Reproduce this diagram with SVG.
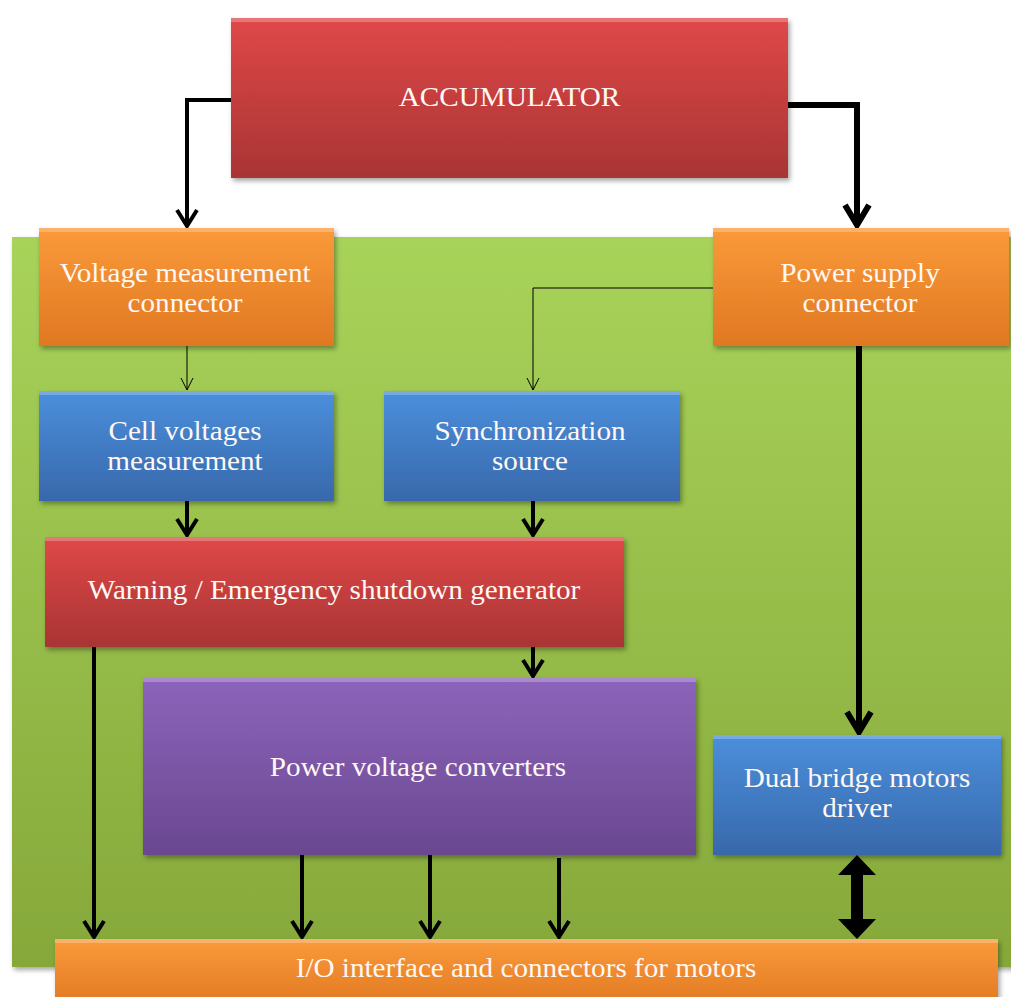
<svg xmlns="http://www.w3.org/2000/svg" width="1011" height="997" viewBox="0 0 1011 997">
<style>
.lbl{font-family:"Liberation Serif","Times New Roman",serif;font-size:27px;fill:#fff8f4;text-anchor:middle}
.box{filter:url(#sh)}
.c4{fill:none;stroke:#000;stroke-width:4;marker-end:url(#ah)}
.c6{fill:none;stroke:#000;stroke-width:6;marker-end:url(#ahb)}
.c1{fill:none;stroke:#000;stroke-width:1;marker-end:url(#aht)}
.hl{fill:#ffffff;opacity:0.25}
</style>
<defs>
<filter id="sh" x="-5%" y="-5%" width="112%" height="115%">
<feDropShadow dx="2" dy="3" stdDeviation="2.5" flood-color="#000" flood-opacity="0.35"/>
</filter>
<linearGradient id="gRed" x1="0" y1="0" x2="0" y2="1"><stop offset="0" stop-color="#e04848"/><stop offset="1" stop-color="#a93434"/></linearGradient>
<linearGradient id="gOr" x1="0" y1="0" x2="0" y2="1"><stop offset="0" stop-color="#fa9a3a"/><stop offset="1" stop-color="#e07822"/></linearGradient>
<linearGradient id="gBl" x1="0" y1="0" x2="0" y2="1"><stop offset="0" stop-color="#4b8fdc"/><stop offset="1" stop-color="#3868ab"/></linearGradient>
<linearGradient id="gPu" x1="0" y1="0" x2="0" y2="1"><stop offset="0" stop-color="#8c64bb"/><stop offset="1" stop-color="#6a4890"/></linearGradient>
<linearGradient id="gGr" x1="0" y1="0" x2="0" y2="1"><stop offset="0" stop-color="#a8d35a"/><stop offset="1" stop-color="#86a83a"/></linearGradient>
<marker id="ah" markerUnits="userSpaceOnUse" viewBox="-20 -12 24 24" refX="0" refY="0" markerWidth="24" markerHeight="24" orient="auto" overflow="visible">
<path d="M-16,-10 L0,0 L-16,10" fill="none" stroke="#000" stroke-width="4"/>
</marker>
<marker id="ahb" markerUnits="userSpaceOnUse" viewBox="-24 -14 28 28" refX="0" refY="0" markerWidth="28" markerHeight="28" orient="auto" overflow="visible">
<path d="M-20,-12 L0,0 L-20,12" fill="none" stroke="#000" stroke-width="6"/>
</marker>
<marker id="aht" markerUnits="userSpaceOnUse" viewBox="-12 -8 14 16" refX="0" refY="0" markerWidth="14" markerHeight="16" orient="auto" overflow="visible">
<path d="M-12,-6 L0,0 L-12,6" fill="none" stroke="#000" stroke-width="1"/>
</marker>
</defs>
<rect width="1011" height="997" fill="#ffffff"/>

<g id="board">
<rect class="box" x="12" y="237" width="1010" height="730" fill="url(#gGr)"/>
</g>

<g id="accumulator">
<rect class="box" x="231" y="18" width="557" height="160" fill="url(#gRed)"/>
<rect class="hl" x="231" y="18" width="557" height="4"/>
<text class="lbl" transform="translate(509.5,106) scale(1.08,1)">ACCUMULATOR</text>
</g>

<g id="connectors">
<path class="c4" d="M231,100 H187 V226"/>
<path class="c6" d="M788,105 H857 V225"/>
<path class="c1" d="M187,346 V390"/>
<path class="c1" d="M713,288 H533 V390"/>
<path class="c6" d="M859,346 V732"/>
<path class="c4" d="M187,501 V535"/>
<path class="c4" d="M533,501 V535"/>
<path class="c4" d="M533,647 V676"/>
<path class="c4" d="M94,647 V937"/>
<path class="c4" d="M302,855 V937"/>
<path class="c4" d="M430,855 V937"/>
<path class="c4" d="M559,858 V937"/>
<polygon points="857,855 876,875 863,875 863,919 876,919 857,939 838,919 851,919 851,875 838,875" fill="#000"/>
</g>

<g id="vmc">
<rect class="box" x="39" y="228" width="295" height="118" fill="url(#gOr)"/>
<rect class="hl" x="39" y="228" width="295" height="4"/>
<text class="lbl" transform="translate(185,282) scale(1.08,1)">Voltage measurement</text>
<text class="lbl" transform="translate(185,312) scale(1.08,1)">connector</text>
</g>

<g id="psc">
<rect class="box" x="713" y="228" width="296" height="118" fill="url(#gOr)"/>
<rect class="hl" x="713" y="228" width="296" height="4"/>
<text class="lbl" transform="translate(860,282) scale(1.08,1)">Power supply</text>
<text class="lbl" transform="translate(860,312) scale(1.08,1)">connector</text>
</g>

<g id="cell">
<rect class="box" x="39" y="391" width="295" height="110" fill="url(#gBl)"/>
<rect class="hl" x="39" y="391" width="295" height="4"/>
<text class="lbl" transform="translate(185,440) scale(1.08,1)">Cell voltages</text>
<text class="lbl" transform="translate(185,470) scale(1.08,1)">measurement</text>
</g>

<g id="sync">
<rect class="box" x="384" y="391" width="296" height="110" fill="url(#gBl)"/>
<rect class="hl" x="384" y="391" width="296" height="4"/>
<text class="lbl" transform="translate(530,440) scale(1.08,1)">Synchronization</text>
<text class="lbl" transform="translate(530,470) scale(1.08,1)">source</text>
</g>

<g id="warning">
<rect class="box" x="45" y="537" width="579" height="110" fill="url(#gRed)"/>
<rect class="hl" x="45" y="537" width="579" height="4"/>
<text class="lbl" transform="translate(334,599) scale(1.08,1)">Warning / Emergency shutdown generator</text>
</g>

<g id="pvc">
<rect class="box" x="143" y="678" width="553" height="177" fill="url(#gPu)"/>
<rect class="hl" x="143" y="678" width="553" height="4"/>
<text class="lbl" transform="translate(418,776) scale(1.08,1)">Power voltage converters</text>
</g>

<g id="dual">
<rect class="box" x="713" y="735" width="288" height="120" fill="url(#gBl)"/>
<rect class="hl" x="713" y="735" width="288" height="4"/>
<text class="lbl" transform="translate(857,787) scale(1.08,1)">Dual bridge motors</text>
<text class="lbl" transform="translate(857,817) scale(1.08,1)">driver</text>
</g>

<g id="io">
<rect class="box" x="55" y="939" width="943" height="70" fill="url(#gOr)"/>
<rect class="hl" x="55" y="939" width="943" height="4"/>
<text class="lbl" transform="translate(526,977) scale(1.08,1)">I/O interface and connectors for motors</text>
</g>
</svg>
